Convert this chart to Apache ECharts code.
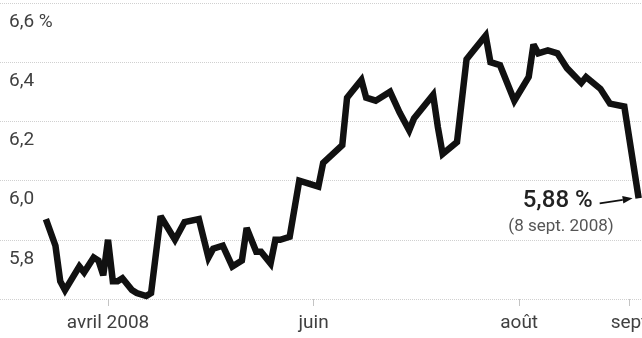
<!DOCTYPE html>
<html lang="fr">
<head>
<meta charset="utf-8">
<title>Taux 2008</title>
<script src="https://cdn.jsdelivr.net/npm/echarts@6/dist/echarts.min.js"></script>
<style>
  html, body { margin: 0; padding: 0; background: #fff; }
  #chart { width: 642px; height: 338px; }
</style>
</head>
<body>
<div id="chart"></div>
<script>
// jours de bourse comptés depuis le 1er avril 2008 (0 = 1er avril)
const days = [-13, -11, -10, -9, -6, -5, -3, -2, -1, 0, 1, 2, 3, 5, 6, 8, 9, 11, 14, 16, 19,
  21, 22, 24, 26, 28, 29, 31, 32, 34, 35, 36, 38, 40, 42, 44, 45, 49, 50, 51, 53, 54, 56, 59,
  61, 63, 64, 68, 69, 70, 73, 75, 76, 79, 80, 82, 85, 88, 89, 90, 92, 94, 96, 99, 100, 103, 105, 108, 111];
const rates = [5.87, 5.78, 5.66, 5.63, 5.71, 5.69, 5.74, 5.73, 5.68, 5.80, 5.66, 5.66, 5.67, 5.63, 5.62, 5.61, 5.62, 5.88, 5.80, 5.86, 5.87,
  5.74, 5.77, 5.78, 5.71, 5.73, 5.84, 5.76, 5.76, 5.72, 5.80, 5.80, 5.81, 6.00, 5.99, 5.98, 6.06, 6.12, 6.28, 6.30, 6.34, 6.28, 6.27, 6.30,
  6.23, 6.17, 6.21, 6.29, 6.18, 6.09, 6.13, 6.41, 6.43, 6.49, 6.40, 6.39, 6.27, 6.35, 6.46, 6.43, 6.44, 6.43, 6.38, 6.33, 6.35, 6.31, 6.26, 6.25, 5.94];

const monthDays = [0, 43, 86, 109];
const monthLabels = ['avril 2008', 'juin', 'août', 'sept'];

const lastValueText = '5,88 %';
const lastDateText = '(8 sept. 2008)';

const FONT = 'Roboto, "DejaVu Sans", sans-serif';

const chart = echarts.init(document.getElementById('chart'), null, { renderer: 'canvas' });

chart.setOption({
  animation: false,
  backgroundColor: '#fff',
  grid: { left: 0, right: 0, top: 3, bottom: 39, containLabel: false, outerBoundsMode: 'none' },
  xAxis: {
    type: 'value',
    min: -22.6,
    max: 111.7,
    splitLine: { show: false },
    axisLine: { show: false },
    axisTick: {
      show: true, customValues: monthDays, length: 7,
      lineStyle: { color: '#c4c4c4', width: 1 },
    },
    axisLabel: {
      customValues: monthDays,
      margin: 15,
      color: '#404040',
      fontSize: 19,
      fontFamily: FONT,
      hideOverlap: false,
      formatter: (v) => monthLabels[monthDays.indexOf(Math.round(v))] || '',
    },
  },
  yAxis: {
    type: 'value',
    min: 5.6,
    max: 6.6,
    interval: 0.2,
    axisLine: { show: false },
    axisTick: { show: false },
    splitLine: { lineStyle: { color: '#d0d0d0', type: 'dotted', width: 1 } },
    axisLabel: {
      inside: true,
      margin: 9,
      color: '#404040',
      fontSize: 19,
      fontFamily: FONT,
      verticalAlign: 'top',
      lineHeight: 20,
      padding: [9, 0, 0, 0],
      formatter: (v) => {
        if (v < 5.7) return '';
        const s = v.toFixed(1).replace('.', ',');
        return v > 6.55 ? s + ' %' : s;
      },
    },
  },
  series: [{
    type: 'line',
    data: days.map((d, i) => [d, rates[i]]),
    symbol: 'none',
    lineStyle: { color: '#111', width: 6.5, join: 'miter', miterLimit: 3 },
  }],
});

// annotation de la dernière valeur
const [px, py] = chart.convertToPixel({ gridIndex: 0 }, [days[days.length - 1], rates[rates.length - 1]]);
const tip = [px - 6, py];
const tail = [px - 39, py + 5];
const len = Math.hypot(tip[0] - tail[0], tip[1] - tail[1]);
const d = [(tip[0] - tail[0]) / len, (tip[1] - tail[1]) / len];
const n = [-d[1], d[0]];
const base = [tip[0] - 10 * d[0], tip[1] - 10 * d[1]];

chart.setOption({
  graphic: [
    {
      type: 'text', x: px - 46, y: py + 3,
      style: { text: lastValueText, fill: '#222', font: '500 24px ' + FONT, align: 'right', verticalAlign: 'middle' },
    },
    {
      type: 'text', x: px - 25, y: py + 28,
      style: { text: lastDateText, fill: '#555', font: '17px ' + FONT, align: 'right', verticalAlign: 'middle' },
    },
    {
      type: 'line',
      shape: { x1: tail[0], y1: tail[1], x2: base[0], y2: base[1] },
      style: { stroke: '#111', lineWidth: 1.6 },
    },
    {
      type: 'polygon',
      shape: { points: [tip, [base[0] + 3.8 * n[0], base[1] + 3.8 * n[1]], [base[0] - 3.8 * n[0], base[1] - 3.8 * n[1]]] },
      style: { fill: '#111' },
    },
  ],
});
</script>
</body>
</html>
